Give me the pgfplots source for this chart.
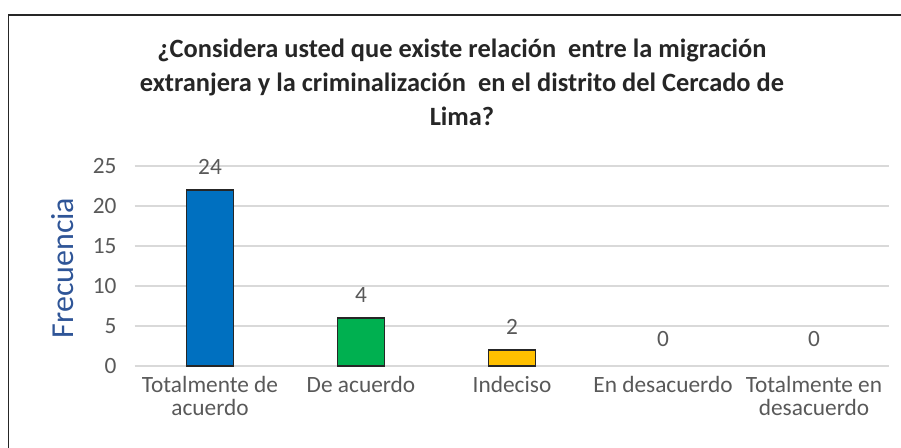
\documentclass[border=0pt]{standalone}
\usepackage{pgfplots}
\pgfplotsset{compat=1.18}
\usepackage{fontspec}
\setmainfont{Carlito}
\definecolor{tickgray}{HTML}{595959}
\definecolor{gridgray}{HTML}{D9D9D9}
\definecolor{ylab}{HTML}{2F5597}
\definecolor{cBlue}{HTML}{0070C0}
\definecolor{cGreen}{HTML}{00B050}
\definecolor{cGold}{HTML}{FFC000}
\begin{document}
\begin{tikzpicture}
\useasboundingbox (0pt,0pt) rectangle (675.75pt,336pt);
\draw[line width=1.3pt,color=black!85] (6.375pt,-5pt) -- (6.375pt,324.75pt) -- (690pt,324.75pt);
\node[align=center,font=\bfseries\fontsize{19.8}{25.5}\selectfont,color=black!85] at (346.5pt,274.5pt)
  {¿Considera usted que existe relación\ \ entre la migración\\extranjera y la criminalización\ \ en el distrito del Cercado de\\Lima?};
\begin{axis}[
  at={(100.875pt,61.5pt)}, anchor=south west,
  scale only axis, width=566.25pt, height=150pt,
  xmin=-0.5, xmax=4.5, ymin=0, ymax=25,
  ytick={0,5,10,15,20,25},
  xtick={0,1,2,3,4},
  xticklabels={{Totalmente de\\acuerdo},{De acuerdo},{Indeciso},{En desacuerdo},{Totalmente en\\desacuerdo}},
  axis line style={draw=none},
  major tick length=0pt,
  ymajorgrids, major grid style={gridgray, line width=1.1pt},
  /pgf/number format/assume math mode=true,
  ticklabel style={font=\fontsize{17.5}{17.25}\selectfont, color=tickgray},
  xticklabel style={align=center, yshift=-4.5pt},
  yticklabel style={xshift=-10pt},
  ylabel={Frecuencia},
  ylabel style={at={(axis description cs:-0.0947,0.49)}, anchor=center, color=ylab, font=\fontsize{24}{26}\selectfont},
  ybar, bar width=35.25pt,
  bar shift=0pt,
  nodes near coords,
  point meta=explicit symbolic,
  every node near coord/.append style={font=\fontsize{17.5}{17}\selectfont, color=tickgray, inner sep=0pt, anchor=south, yshift=11pt},
  clip=false,
]
\addplot[fill=cBlue, draw=black!85, line width=0.9pt] coordinates {(0,22) [24]};
\addplot[fill=cGreen, draw=black!85, line width=0.9pt] coordinates {(1,6) [4]};
\addplot[fill=cGold, draw=black!85, line width=0.9pt] coordinates {(2,2) [2]};
\addplot[draw=none, fill=none, every node near coord/.append style={yshift=3pt}] coordinates {(3,0) [0]};
\addplot[draw=none, fill=none, every node near coord/.append style={yshift=3pt}] coordinates {(4,0) [0]};
\end{axis}
\end{tikzpicture}
\end{document}
